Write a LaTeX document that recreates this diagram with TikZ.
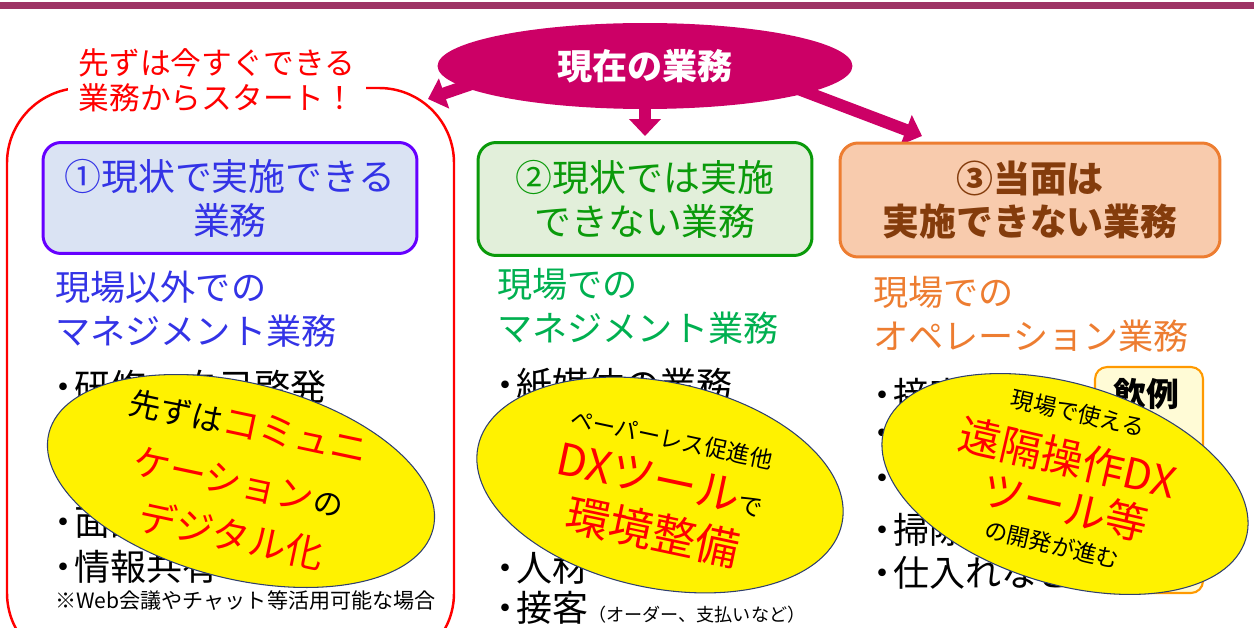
\documentclass[tikz,border=0pt]{standalone}
\usepackage{fontspec}
\setmainfont{Noto Sans CJK JP}
\usetikzlibrary{shapes.geometric,arrows.meta,backgrounds}
\definecolor{barc}{HTML}{9E3465}
\definecolor{curc}{HTML}{CC0066}
\definecolor{blueline}{HTML}{6600FF}
\definecolor{bluefill}{HTML}{DAE3F3}
\definecolor{bluetext}{HTML}{3333E6}
\definecolor{greenline}{HTML}{0A9A0A}
\definecolor{greenfill}{HTML}{E2EFDA}
\definecolor{greensub}{HTML}{00B050}
\definecolor{orangeline}{HTML}{ED7D31}
\definecolor{orangefill}{HTML}{F8CBAD}
\definecolor{orangetext}{HTML}{843C0C}
\definecolor{casefill}{HTML}{FFFBD6}
\definecolor{caseline}{HTML}{FF9900}
\definecolor{ovalline}{HTML}{2F3F6F}
\newcommand\fsz[2]{\fontsize{#1}{#2}\selectfont}
\newcommand\bul{\kern-.3em・\kern-.2em}
\tikzset{
  kind/.style={rounded corners=0.36cm, line width=1.7pt, align=center, inner sep=0pt, font=\fsz{21}{25}},
  subhead/.style={anchor=west, align=left, inner sep=0pt, font=\fsz{20}{25}},
  listline/.style={anchor=west, inner sep=0pt, font=\fsz{20.5}{24}},
  oval/.style={ellipse, draw=ovalline, line width=0.6pt, fill=yellow, inner sep=0pt},
  fat/.style={curc, line width=0.24cm, -{Triangle[width=0.62cm,length=0.34cm]}}
}
\begin{document}
\begin{tikzpicture}[x=0.02cm, y=-0.02cm]
\useasboundingbox (0,0) rectangle (1254,628);
\fill[barc] (0,2) rectangle (1254,9);
\node[ellipse, fill=curc, minimum width=8.3cm, minimum height=1.72cm, inner sep=0pt, text=white, font=\fsz{20}{24}\bfseries] (cur) at (645,66) {現在の業務};
\draw[red, line width=1.4pt, rounded corners=1.5cm] (7,88) rectangle (454,668);
\node[fill=white, text=red, align=left, inner xsep=6pt, inner ysep=1pt, font=\fsz{17.5}{20}] (start) at (217,80) {先ずは今すぐできる\\業務からスタート！};
\node[kind, draw=blueline, fill=bluefill, text=bluetext, minimum width=7.48cm, minimum height=2.22cm] (now) at (230,198) {①現状で実施できる\\業務};
\node[kind, draw=greenline, fill=greenfill, text=greenline, minimum width=6.68cm, minimum height=2.26cm] (later) at (645,199) {②現状では実施\\できない業務};
\node[kind, draw=orangeline, fill=orangefill, text=orangetext, font=\fsz{21}{25}\bfseries, minimum width=7.6cm, minimum height=2.28cm] (notyet) at (1030,200) {③当面は\\実施できない業務};
\begin{scope}[on background layer]
\coordinate (lfoot) at ([shift={(-150,10)}]cur.center);
\coordinate (ltip) at (428,99);
\coordinate (rfoot) at ([shift={(140,18)}]cur.center);
\coordinate (rtip) at (922,136);
\draw[fat] (lfoot) -- (ltip);
\draw[fat, shorten >=0.1cm] (cur.center) -- (later.north);
\draw[fat] (rfoot) -- (rtip);
\end{scope}
\node[subhead, text=bluetext] (off) at (55,309) {現場以外での\\マネジメント業務};
\node[subhead, text=greensub] (mgmt) at (497,306) {現場での\\マネジメント業務};
\node[subhead, text=orangeline] (ops) at (873,314) {現場での\\オペレーション業務};
\node[listline] (a1) at (56,387) {\bul 研修・自己啓発};
\node[listline] (a4) at (56,522) {\bul 面談};
\node[listline] (a5) at (56,567) {\bul 情報共有};
\node[anchor=west, inner sep=0pt, font=\fsz{12}{14}] (note) at (55,601) {※Web会議やチャット等活用可能な場合};
\node[listline] (b1) at (498,385) {\bul 紙媒体の業務};
\node[listline] (b4) at (498,519) {\bul};
\node[listline] (b5) at (498,568) {\bul 人材};
\node[listline] (b6) at (498,608) {\bul 接客{\fsz{10.3}{12}（オーダー、支払いなど）}};
\node[listline] (c1) at (875,395) {\bul 接客};
\node[listline] (c2) at (875,438) {\bul};
\node[listline] (c3) at (875,483) {\bul};
\node[listline] (c4) at (875,530) {\bul 掃除};
\node[listline] (c5) at (875,573) {\bul 仕入れなど};
\node[draw=caseline, fill=casefill, line width=1.2pt, rounded corners=0.24cm, minimum width=2.16cm, minimum height=4.52cm] (case) at (1149,480) {};
\node[inner sep=0pt, font=\fsz{18.7}{22}\bfseries] (casettl) at (1146,394) {飲例};
\node[oval, minimum width=7.92cm, minimum height=3.92cm, rotate=-14] (dig) at (241,481) {};
\begin{scope}[shift={(dig.center)}, rotate=-12, transform shape]
\node[inner sep=0pt] (dig1) at (-4,-55) {\fsz{18}{20}先ずは\fsz{21}{24}\color{red}コミュニ};
\node[inner sep=0pt] (dig2) at (-2,2) {\color{red}\fsz{21}{24}ケーション\color{black}\fsz{17}{20}の};
\node[inner sep=0pt] (dig3) at (2,55) {\color{red}\fsz{21.5}{24}デジタル化};
\end{scope}
\node[oval, minimum width=7.44cm, minimum height=4.12cm, rotate=-12] (dx) at (660,485) {};
\begin{scope}[shift={(dx.center)}, rotate=-12, transform shape]
\node[inner sep=0pt] (dx1) at (2,-47) {\fsz{13}{16}ペーパーレス促進他};
\node[inner sep=0pt] (dx2) at (0,-5) {\color{red}\fsz{25}{28}DXツール\color{black}\fsz{14}{16}で};
\node[inner sep=0pt] (dx3) at (3,47) {\color{red}\fsz{25}{28}環境整備};
\end{scope}
\node[oval, minimum width=7.56cm, minimum height=4.0cm, rotate=-17] (rem) at (1065,484) {};
\begin{scope}[shift={(rem.center)}, rotate=-13, transform shape]
\node[inner sep=0pt] (rem1) at (-3,-72) {\fsz{13}{16}現場で使える};
\node[inner sep=0pt] (rem2) at (-3,-26) {\color{red}\fsz{24}{28}遠隔操作DX};
\node[inner sep=0pt] (rem3) at (5,22) {\color{red}\fsz{24}{28}ツール等};
\node[inner sep=0pt] (rem4) at (1,62) {\fsz{13}{16}の開発が進む};
\end{scope}
\end{tikzpicture}
\end{document}
